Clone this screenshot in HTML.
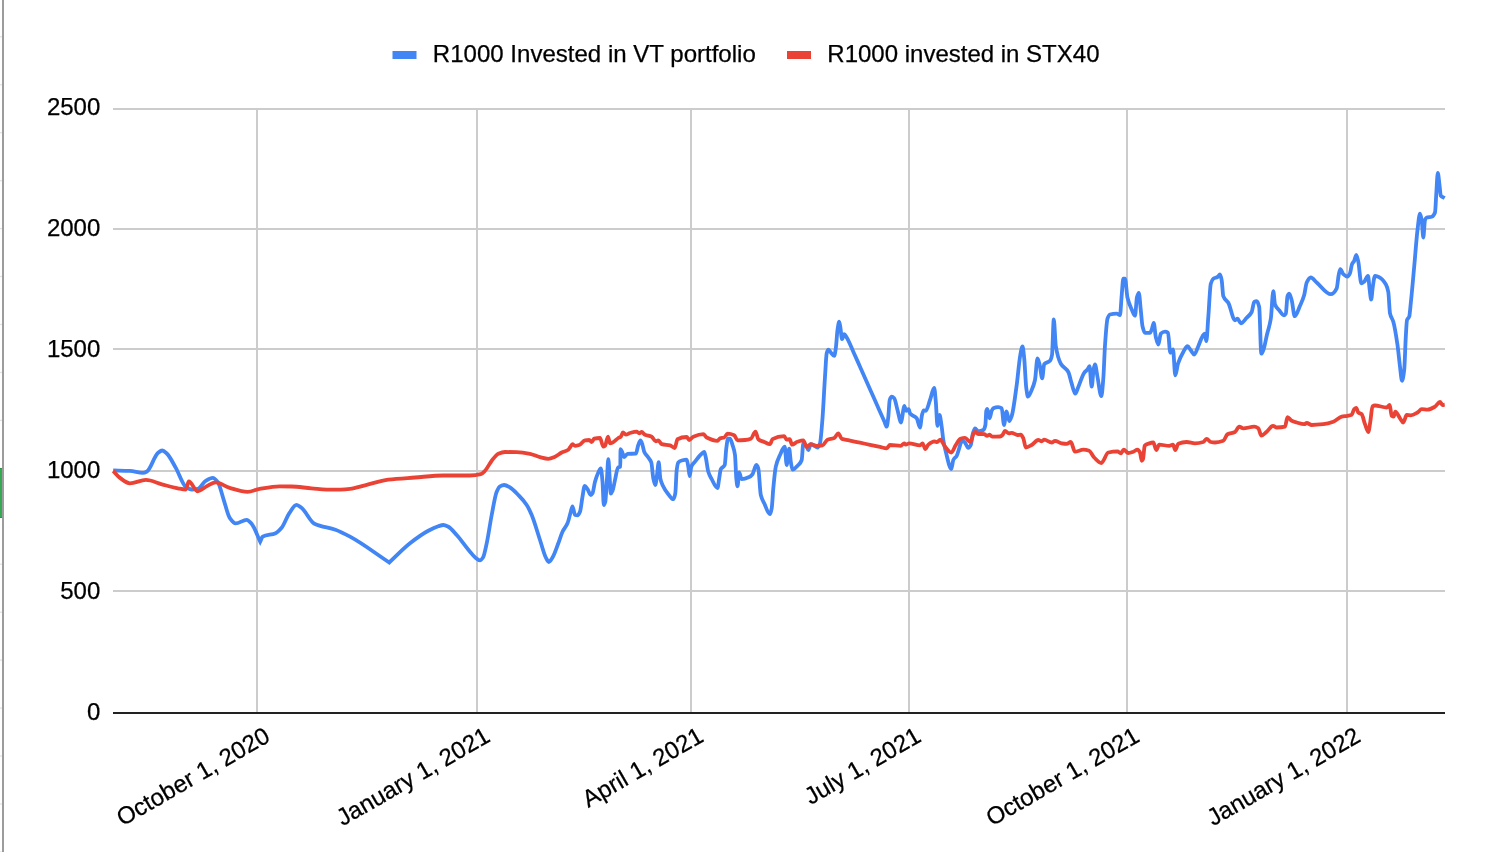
<!DOCTYPE html>
<html><head><meta charset="utf-8"><title>Chart</title>
<style>html,body{margin:0;padding:0;background:#fff;overflow:hidden}body{width:1488px;height:852px;position:relative;font-family:"Liberation Sans",sans-serif}</style>
</head><body>
<svg width="1488" height="852" viewBox="0 0 1488 852" style="position:absolute;left:0;top:0;will-change:transform">
<rect width="1488" height="852" fill="#fff"/>
<rect x="0" y="36.2" width="2" height="1.2" fill="#e2e2e2"/>
<rect x="0" y="84.2" width="2" height="1.2" fill="#e2e2e2"/>
<rect x="0" y="132.1" width="2" height="1.2" fill="#e2e2e2"/>
<rect x="0" y="180.1" width="2" height="1.2" fill="#e2e2e2"/>
<rect x="0" y="228.0" width="2" height="1.2" fill="#e2e2e2"/>
<rect x="0" y="275.9" width="2" height="1.2" fill="#e2e2e2"/>
<rect x="0" y="323.9" width="2" height="1.2" fill="#e2e2e2"/>
<rect x="0" y="371.9" width="2" height="1.2" fill="#e2e2e2"/>
<rect x="0" y="419.8" width="2" height="1.2" fill="#e2e2e2"/>
<rect x="0" y="563.6" width="2" height="1.2" fill="#e2e2e2"/>
<rect x="0" y="611.6" width="2" height="1.2" fill="#e2e2e2"/>
<rect x="0" y="659.5" width="2" height="1.2" fill="#e2e2e2"/>
<rect x="0" y="707.5" width="2" height="1.2" fill="#e2e2e2"/>
<rect x="0" y="755.4" width="2" height="1.2" fill="#e2e2e2"/>
<rect x="0" y="803.4" width="2" height="1.2" fill="#e2e2e2"/>
<rect x="0" y="851.4" width="2" height="1.2" fill="#e2e2e2"/>
<rect x="0" y="468" width="2.4" height="50" fill="#34a853"/>
<rect x="0" y="468" width="2.4" height="1" fill="#2c9147"/>
<rect x="0" y="517" width="2.4" height="1" fill="#2c9147"/>
<rect x="2" y="0" width="2" height="852" fill="#9c9c9c"/>
<rect x="113" y="108" width="1332" height="2" fill="#ccc"/>
<rect x="113" y="228" width="1332" height="2" fill="#ccc"/>
<rect x="113" y="348" width="1332" height="2" fill="#ccc"/>
<rect x="113" y="470" width="1332" height="2" fill="#ccc"/>
<rect x="113" y="590" width="1332" height="2" fill="#ccc"/>
<rect x="256" y="108" width="2" height="604" fill="#ccc"/>
<rect x="476" y="108" width="2" height="604" fill="#ccc"/>
<rect x="690" y="108" width="2" height="604" fill="#ccc"/>
<rect x="908" y="108" width="2" height="604" fill="#ccc"/>
<rect x="1126" y="108" width="2" height="604" fill="#ccc"/>
<rect x="1346" y="108" width="2" height="604" fill="#ccc"/>
<rect x="113" y="712" width="1332" height="2" fill="#222"/>
<path d="M113.2 470.5C118.77 470.63 124.33 470.66 129.9 470.9C134.23 471.09 138.57 472.90 142.9 472.9C144.23 472.90 145.57 472.20 146.9 471.5C150.57 469.57 154.23 455.91 157.9 453.0C159.37 451.84 160.83 450.50 162.3 450.5C163.80 450.50 165.30 452.15 166.8 453.5C169.80 456.20 172.80 462.70 175.8 467.9C179.13 473.68 182.47 484.66 185.8 486.9C187.80 488.24 189.80 489.50 191.8 489.5C193.80 489.50 195.80 489.25 197.8 488.9C200.43 488.44 203.07 482.47 205.7 480.9C208.03 479.51 210.37 477.90 212.7 477.9C214.37 477.90 216.03 479.83 217.7 481.9C219.70 484.38 221.70 493.82 223.7 499.8C225.70 505.78 227.70 514.95 229.7 517.8C231.70 520.65 233.70 523.40 235.7 523.4C239.37 523.40 243.03 519.80 246.7 519.8C248.33 519.80 249.97 521.96 251.6 523.8C254.47 527.03 257.33 535.73 260.2 541.7C261.00 540.03 261.80 537.16 262.6 536.7C266.93 534.19 271.27 535.12 275.6 533.2C277.60 532.31 279.60 530.20 281.6 527.8C284.23 524.64 286.87 516.54 289.5 512.8C291.83 509.49 294.17 504.80 296.5 504.8C298.17 504.80 299.83 506.52 301.5 507.8C305.83 511.13 310.17 521.68 314.5 523.8C321.47 527.21 328.43 527.28 335.4 529.8C340.27 531.56 345.13 534.09 350.0 536.7C363.07 543.71 376.13 553.90 389.2 562.5C396.13 556.10 403.07 548.73 410.0 543.3C416.10 538.53 422.20 534.04 428.3 530.8C431.63 529.03 434.97 527.37 438.3 526.3C439.97 525.77 441.63 525.00 443.3 525.0C444.97 525.00 446.63 525.89 448.3 526.7C451.10 528.06 453.90 531.93 456.7 535.0C461.13 539.86 465.57 546.69 470.0 551.7C472.23 554.22 474.47 557.28 476.7 558.7C477.80 559.40 478.90 560.30 480.0 560.3C481.00 560.30 482.00 558.97 483.0 557.5C484.23 555.69 485.47 548.89 486.7 543.3C488.37 535.75 490.03 523.52 491.7 515.0C493.37 506.48 495.03 495.61 496.7 491.7C497.80 489.12 498.90 486.89 500.0 486.3C501.40 485.55 502.80 485.00 504.2 485.0C506.13 485.00 508.07 486.39 510.0 487.5C512.77 489.08 515.53 492.16 518.3 495.0C521.10 497.88 523.90 500.73 526.7 505.0C528.37 507.54 530.03 511.06 531.7 515.0C534.47 521.54 537.23 531.66 540.0 540.0C541.93 545.83 543.87 553.76 545.8 557.5C546.80 559.43 547.80 562.00 548.8 562.0C550.03 562.00 551.27 559.46 552.5 557.5C554.43 554.43 556.37 548.33 558.3 543.3C559.70 539.65 561.10 534.65 562.5 531.7C564.17 528.19 565.83 527.18 567.5 523.3C568.60 520.74 569.70 515.35 570.8 511.7C571.37 509.82 571.93 506.30 572.5 506.3C573.33 506.30 574.17 514.81 575.0 515.0C575.83 515.19 576.67 515.30 577.5 515.3C578.33 515.30 579.17 513.64 580.0 511.7C580.83 509.76 581.67 501.21 582.5 496.7C583.23 492.73 583.97 485.80 584.7 485.8C585.63 485.80 586.57 487.87 587.5 489.2C588.60 490.77 589.70 495.00 590.8 495.0C591.37 495.00 591.93 494.20 592.5 493.3C593.33 491.98 594.17 484.64 595.0 481.7C596.10 477.82 597.20 474.78 598.3 472.5C599.13 470.77 599.97 468.30 600.8 468.3C601.37 468.30 601.93 475.39 602.5 481.7C602.93 486.53 603.37 505.00 603.8 505.0C604.30 505.00 604.80 503.57 605.3 501.7C605.87 499.58 606.43 486.37 607.0 478.3C607.43 472.13 607.87 459.20 608.3 459.2C608.77 459.20 609.23 471.85 609.7 478.3C610.07 483.37 610.43 493.70 610.8 493.7C611.37 493.70 611.93 492.15 612.5 490.8C613.33 488.82 614.17 483.54 615.0 480.0C616.00 475.76 617.00 468.12 618.0 467.5C618.77 467.03 619.53 467.44 620.3 466.7C620.37 466.64 620.43 449.20 620.5 449.2C621.00 449.20 621.50 450.73 622.0 451.7C622.73 453.13 623.47 457.00 624.2 457.0C625.30 457.00 626.40 453.83 627.5 453.8C630.27 453.72 633.03 453.78 635.8 453.7C636.63 453.68 637.47 447.20 638.3 445.0C639.03 443.07 639.77 440.30 640.5 440.3C641.17 440.30 641.83 443.02 642.5 445.0C643.07 446.68 643.63 450.44 644.2 451.7C645.57 454.74 646.93 455.40 648.3 457.5C649.30 459.04 650.30 459.62 651.3 462.5C651.97 464.42 652.63 475.16 653.3 478.3C653.97 481.44 654.63 485.00 655.3 485.0C655.87 485.00 656.43 478.74 657.0 475.0C657.57 471.26 658.13 462.20 658.7 462.2C659.23 462.20 659.77 475.73 660.3 478.3C661.03 481.83 661.77 483.39 662.5 485.0C664.43 489.23 666.37 491.84 668.3 494.2C669.97 496.23 671.63 499.20 673.3 499.2C673.97 499.20 674.63 496.78 675.3 493.3C675.77 490.86 676.23 473.46 676.7 470.0C677.23 466.05 677.77 463.11 678.3 462.5C679.43 461.19 680.57 460.80 681.7 460.5C683.37 460.06 685.03 459.70 686.7 459.7C687.23 459.70 687.77 463.85 688.3 466.7C688.77 469.19 689.23 476.20 689.7 476.2C690.23 476.20 690.77 467.98 691.3 466.7C692.53 463.74 693.77 463.27 695.0 461.7C697.23 458.85 699.47 455.56 701.7 453.7C702.53 453.01 703.37 452.00 704.2 452.0C704.73 452.00 705.27 455.26 705.8 457.5C706.63 461.01 707.47 468.99 708.3 471.7C709.43 475.38 710.57 477.13 711.7 479.2C713.63 482.73 715.57 488.00 717.5 488.0C718.07 488.00 718.63 481.53 719.2 478.3C719.73 475.26 720.27 470.27 720.8 469.2C722.10 466.60 723.40 467.86 724.7 465.0C725.23 463.83 725.77 452.22 726.3 448.3C726.87 444.13 727.43 438.70 728.0 438.7C728.67 438.70 729.33 438.70 730.0 438.7C730.83 438.70 731.67 442.42 732.5 445.0C733.33 447.58 734.17 449.16 735.0 455.0C735.43 458.04 735.87 474.11 736.3 478.3C736.70 482.16 737.10 486.30 737.5 486.3C738.07 486.30 738.63 472.50 739.2 472.5C740.03 472.50 740.87 479.20 741.7 479.2C744.20 479.20 746.70 478.16 749.2 477.0C750.30 476.49 751.40 475.57 752.5 474.2C753.77 472.63 755.03 465.00 756.3 465.0C756.97 465.00 757.63 466.44 758.3 468.3C759.13 470.62 759.97 491.58 760.8 495.0C761.93 499.65 763.07 500.87 764.2 503.3C766.13 507.45 768.07 514.20 770.0 514.2C770.57 514.20 771.13 511.40 771.7 508.3C772.23 505.39 772.77 493.82 773.3 488.3C774.13 479.67 774.97 470.37 775.8 466.7C777.20 460.53 778.60 458.04 780.0 455.0C781.57 451.60 783.13 446.70 784.7 446.7C785.37 446.70 786.03 465.00 786.7 465.0C787.53 465.00 788.37 448.70 789.2 448.7C789.73 448.70 790.27 458.51 790.8 461.7C791.37 465.09 791.93 469.70 792.5 469.7C794.43 469.70 796.37 467.07 798.3 465.0C799.43 463.79 800.57 463.21 801.7 460.0C802.23 458.49 802.77 443.30 803.3 443.3C804.43 443.30 805.57 445.11 806.7 446.7C807.23 447.45 807.77 450.00 808.3 450.0C809.13 450.00 809.97 444.20 810.8 444.2C811.93 444.20 813.07 445.24 814.2 445.8C815.30 446.34 816.40 447.50 817.5 447.5C818.33 447.50 819.17 445.70 820.0 443.3C820.83 440.90 821.67 428.71 822.5 418.3C823.33 407.89 824.17 389.18 825.0 376.7C825.57 368.21 826.13 355.48 826.7 353.3C827.23 351.25 827.77 349.70 828.3 349.7C829.13 349.70 829.97 351.63 830.8 352.5C831.93 353.68 833.07 355.80 834.2 355.8C834.73 355.80 835.27 351.77 835.8 348.3C836.37 344.61 836.93 333.81 837.5 330.0C838.07 326.19 838.63 321.70 839.2 321.7C839.63 321.70 840.07 325.72 840.5 328.3C841.00 331.28 841.50 339.20 842.0 339.2C842.73 339.20 843.47 334.20 844.2 334.2C845.03 334.20 845.87 336.18 846.7 337.5C848.90 340.97 851.10 346.87 853.3 351.7C855.53 356.60 857.77 361.69 860.0 366.7C863.33 374.18 866.67 381.70 870.0 389.2C873.33 396.70 876.67 404.21 880.0 411.7C881.50 415.07 883.00 418.45 884.5 421.8C885.23 423.44 885.97 426.70 886.7 426.7C887.23 426.70 887.77 421.11 888.3 416.7C888.77 412.85 889.23 401.42 889.7 400.0C890.37 397.98 891.03 396.70 891.7 396.7C892.53 396.70 893.37 397.42 894.2 398.3C895.30 399.46 896.40 406.19 897.5 410.0C898.73 414.27 899.97 422.50 901.2 422.5C901.73 422.50 902.27 416.26 902.8 413.3C903.27 410.71 903.73 405.80 904.2 405.8C904.90 405.80 905.60 410.80 906.3 410.8C907.10 410.80 907.90 409.20 908.7 409.2C909.13 409.20 909.57 412.69 910.0 413.3C912.23 416.43 914.47 415.49 916.7 418.3C917.80 419.69 918.90 427.50 920.0 427.5C920.67 427.50 921.33 417.53 922.0 415.0C922.57 412.85 923.13 410.30 923.7 410.3C924.40 410.30 925.10 410.80 925.8 410.8C927.20 410.80 928.60 403.79 930.0 400.0C931.40 396.21 932.80 388.00 934.2 388.0C934.73 388.00 935.27 396.02 935.8 401.7C936.37 407.73 936.93 425.80 937.5 425.8C938.17 425.80 938.83 415.00 939.5 415.0C940.23 415.00 940.97 421.89 941.7 426.7C942.23 430.20 942.77 436.74 943.3 440.0C944.13 445.09 944.97 448.49 945.8 451.7C947.63 458.77 949.47 469.00 951.3 469.0C951.97 469.00 952.63 461.36 953.3 460.0C954.43 457.69 955.57 457.83 956.7 455.8C957.53 454.31 958.37 450.71 959.2 448.3C960.03 445.89 960.87 441.30 961.7 441.3C962.53 441.30 963.37 441.47 964.2 441.7C965.57 442.07 966.93 447.90 968.3 447.9C969.13 447.90 969.97 446.63 970.8 445.0C971.50 443.63 972.20 435.64 972.9 433.3C973.60 430.96 974.30 428.30 975.0 428.3C976.10 428.30 977.20 431.30 978.3 431.3C979.97 431.30 981.63 430.88 983.3 430.0C984.00 429.63 984.70 428.21 985.4 425.0C985.70 423.62 986.00 411.88 986.3 410.8C986.63 409.60 986.97 408.80 987.3 408.8C988.07 408.80 988.83 418.30 989.6 418.3C990.30 418.30 991.00 412.30 991.7 410.8C992.23 409.66 992.77 408.55 993.3 408.3C994.97 407.51 996.63 407.10 998.3 407.1C999.43 407.10 1000.57 407.49 1001.7 408.3C1002.47 408.85 1003.23 425.00 1004.0 425.0C1004.83 425.00 1005.67 411.50 1006.5 411.5C1007.40 411.50 1008.30 421.00 1009.2 421.0C1010.03 421.00 1010.87 418.38 1011.7 416.0C1013.37 411.23 1015.03 396.95 1016.7 385.0C1017.90 376.40 1019.10 361.26 1020.3 355.0C1021.03 351.18 1021.77 346.30 1022.5 346.3C1023.07 346.30 1023.63 353.01 1024.2 358.3C1024.90 364.84 1025.60 383.25 1026.3 388.3C1026.87 392.39 1027.43 396.70 1028.0 396.7C1029.23 396.70 1030.47 392.81 1031.7 390.0C1032.80 387.49 1033.90 385.05 1035.0 380.0C1035.83 376.17 1036.67 358.30 1037.5 358.3C1038.23 358.30 1038.97 362.18 1039.7 365.0C1040.53 368.21 1041.37 378.30 1042.2 378.3C1042.87 378.30 1043.53 365.04 1044.2 364.2C1046.13 361.77 1048.07 362.91 1050.0 360.8C1050.67 360.07 1051.33 358.42 1052.0 355.0C1052.60 351.92 1053.20 319.30 1053.8 319.3C1054.47 319.30 1055.13 341.93 1055.8 346.0C1057.47 356.17 1059.13 360.79 1060.8 363.7C1063.30 368.07 1065.80 367.53 1068.3 372.0C1069.43 374.03 1070.57 380.21 1071.7 383.7C1072.90 387.39 1074.10 393.70 1075.3 393.7C1076.30 393.70 1077.30 389.31 1078.3 387.0C1080.27 382.46 1082.23 375.47 1084.2 372.8C1085.30 371.30 1086.40 370.90 1087.5 369.5C1088.17 368.65 1088.83 366.20 1089.5 366.2C1090.23 366.20 1090.97 386.70 1091.7 386.7C1092.37 386.70 1093.03 371.77 1093.7 368.7C1094.13 366.71 1094.57 364.50 1095.0 364.5C1095.83 364.50 1096.67 372.81 1097.5 377.0C1098.77 383.36 1100.03 396.20 1101.3 396.2C1101.97 396.20 1102.63 386.86 1103.3 378.7C1103.87 371.77 1104.43 353.27 1105.0 345.3C1105.83 333.58 1106.67 321.12 1107.5 318.7C1108.33 316.28 1109.17 314.71 1110.0 314.5C1112.23 313.93 1114.47 313.70 1116.7 313.7C1117.80 313.70 1118.90 315.00 1120.0 315.0C1120.57 315.00 1121.13 301.50 1121.7 295.3C1122.23 289.46 1122.77 278.70 1123.3 278.7C1123.87 278.70 1124.43 278.70 1125.0 278.7C1125.83 278.70 1126.67 294.26 1127.5 297.8C1128.90 303.75 1130.30 306.38 1131.7 309.5C1132.80 311.95 1133.90 315.70 1135.0 315.7C1135.67 315.70 1136.33 299.46 1137.0 297.0C1137.60 294.78 1138.20 292.80 1138.8 292.8C1139.47 292.80 1140.13 304.27 1140.8 310.3C1141.37 315.43 1141.93 323.78 1142.5 326.2C1143.33 329.76 1144.17 332.80 1145.0 332.8C1146.67 332.80 1148.33 332.80 1150.0 332.8C1150.67 332.80 1151.33 330.43 1152.0 328.7C1152.57 327.23 1153.13 322.80 1153.7 322.8C1154.40 322.80 1155.10 334.06 1155.8 337.0C1156.63 340.50 1157.47 344.50 1158.3 344.5C1159.13 344.50 1159.97 334.47 1160.8 333.7C1162.20 332.41 1163.60 331.70 1165.0 331.7C1166.00 331.70 1167.00 332.07 1168.0 332.8C1168.77 333.36 1169.53 352.80 1170.3 352.8C1171.20 352.80 1172.10 349.50 1173.0 349.5C1173.77 349.50 1174.53 375.30 1175.3 375.3C1176.20 375.30 1177.10 366.42 1178.0 363.7C1179.77 358.36 1181.53 354.98 1183.3 352.0C1184.70 349.64 1186.10 346.20 1187.5 346.2C1188.60 346.20 1189.70 348.94 1190.8 350.3C1191.93 351.70 1193.07 354.50 1194.2 354.5C1195.57 354.50 1196.93 349.19 1198.3 346.2C1199.70 343.14 1201.10 338.28 1202.5 336.2C1203.23 335.11 1203.97 333.70 1204.7 333.7C1205.23 333.70 1205.77 341.20 1206.3 341.2C1206.97 341.20 1207.63 325.44 1208.3 317.0C1209.13 306.45 1209.97 286.60 1210.8 283.7C1211.63 280.80 1212.47 279.29 1213.3 278.7C1214.70 277.70 1216.10 277.84 1217.5 277.0C1218.33 276.50 1219.17 274.50 1220.0 274.5C1220.57 274.50 1221.13 277.41 1221.7 280.3C1222.23 283.02 1222.77 294.77 1223.3 296.2C1224.97 300.67 1226.63 299.92 1228.3 302.8C1230.53 306.66 1232.77 320.30 1235.0 320.3C1235.83 320.30 1236.67 318.70 1237.5 318.7C1238.60 318.70 1239.70 323.30 1240.8 323.3C1242.77 323.30 1244.73 319.84 1246.7 317.8C1248.37 316.07 1250.03 315.19 1251.7 312.0C1252.53 310.40 1253.37 302.49 1254.2 302.0C1255.03 301.51 1255.87 301.20 1256.7 301.2C1257.53 301.20 1258.37 303.41 1259.2 307.0C1259.90 310.01 1260.60 353.70 1261.3 353.7C1261.97 353.70 1262.63 351.85 1263.3 350.3C1264.53 347.42 1265.77 339.70 1267.0 334.5C1268.27 329.16 1269.53 326.59 1270.8 318.7C1271.63 313.51 1272.47 291.20 1273.3 291.2C1273.87 291.20 1274.43 303.02 1275.0 304.5C1276.40 308.15 1277.80 308.67 1279.2 310.3C1280.87 312.24 1282.53 315.30 1284.2 315.3C1284.73 315.30 1285.27 314.66 1285.8 313.7C1286.37 312.68 1286.93 297.66 1287.5 296.2C1288.07 294.74 1288.63 293.70 1289.2 293.7C1290.03 293.70 1290.87 297.39 1291.7 300.3C1292.70 303.79 1293.70 316.20 1294.7 316.2C1296.47 316.20 1298.23 309.75 1300.0 305.8C1301.40 302.67 1302.80 299.89 1304.2 295.0C1305.03 292.09 1305.87 284.22 1306.7 282.5C1308.07 279.68 1309.43 277.50 1310.8 277.5C1312.77 277.50 1314.73 280.85 1316.7 282.5C1321.40 286.45 1326.10 294.20 1330.8 294.2C1332.77 294.20 1334.73 292.19 1336.7 288.3C1337.37 286.98 1338.03 278.09 1338.7 275.0C1339.23 272.52 1339.77 269.20 1340.3 269.2C1341.30 269.20 1342.30 273.30 1343.3 274.2C1344.70 275.46 1346.10 276.70 1347.5 276.7C1348.33 276.70 1349.17 275.08 1350.0 273.3C1350.67 271.88 1351.33 265.75 1352.0 264.2C1352.73 262.49 1353.47 262.26 1354.2 260.8C1354.90 259.41 1355.60 255.00 1356.3 255.0C1356.97 255.00 1357.63 258.72 1358.3 261.7C1359.30 266.16 1360.30 283.30 1361.3 283.3C1362.27 283.30 1363.23 282.47 1364.2 281.7C1365.47 280.69 1366.73 275.80 1368.0 275.8C1368.57 275.80 1369.13 285.93 1369.7 290.0C1370.20 293.59 1370.70 299.50 1371.2 299.5C1371.73 299.50 1372.27 290.00 1372.8 286.7C1373.53 282.16 1374.27 275.80 1375.0 275.8C1376.10 275.80 1377.20 276.26 1378.3 276.7C1380.80 277.70 1383.30 280.06 1385.8 284.2C1386.63 285.58 1387.47 287.67 1388.3 292.0C1388.87 294.94 1389.43 310.72 1390.0 313.3C1391.10 318.31 1392.20 317.92 1393.3 321.7C1394.70 326.51 1396.10 335.34 1397.5 345.0C1398.33 350.75 1399.17 360.24 1400.0 366.7C1400.67 371.87 1401.33 380.80 1402.0 380.8C1402.73 380.80 1403.47 376.02 1404.2 370.0C1404.73 365.62 1405.27 345.51 1405.8 336.7C1406.20 330.09 1406.60 321.18 1407.0 320.0C1407.73 317.84 1408.47 318.64 1409.2 316.7C1409.73 315.29 1410.27 308.00 1410.8 303.0C1411.93 292.37 1413.07 279.05 1414.2 266.7C1415.30 254.72 1416.40 238.94 1417.5 230.0C1418.33 223.23 1419.17 213.70 1420.0 213.7C1420.57 213.70 1421.13 216.85 1421.7 220.0C1422.23 222.97 1422.77 237.50 1423.3 237.5C1423.87 237.50 1424.43 221.46 1425.0 220.0C1425.57 218.54 1426.13 217.69 1426.7 217.5C1428.37 216.95 1430.03 217.20 1431.7 216.7C1432.80 216.37 1433.90 215.44 1435.0 212.5C1435.43 211.34 1435.87 199.43 1436.3 193.3C1436.80 186.23 1437.30 173.00 1437.8 173.0C1438.37 173.00 1438.93 180.66 1439.5 185.0C1439.93 188.32 1440.37 195.26 1440.8 195.8C1442.10 197.41 1443.40 197.27 1444.7 198.0" fill="none" stroke="#4285f4" stroke-width="3.8" stroke-linejoin="miter" stroke-miterlimit="4" stroke-linecap="butt"/>
<path d="M113.2 470.9C115.47 473.23 117.73 476.25 120.0 477.9C123.30 480.30 126.60 483.30 129.9 483.3C135.23 483.30 140.57 479.90 145.9 479.9C151.23 479.90 156.57 482.90 161.9 484.3C167.20 485.69 172.50 487.33 177.8 488.3C180.47 488.79 183.13 489.50 185.8 489.5C186.80 489.50 187.80 481.50 188.8 481.5C191.80 481.50 194.80 491.30 197.8 491.3C200.43 491.30 203.07 488.23 205.7 486.9C209.03 485.21 212.37 482.30 215.7 482.3C220.37 482.30 225.03 486.55 229.7 487.9C235.67 489.63 241.63 491.90 247.6 491.9C251.60 491.90 255.60 489.60 259.6 488.9C266.27 487.73 272.93 486.30 279.6 486.3C283.57 486.30 287.53 486.39 291.5 486.5C298.17 486.68 304.83 487.80 311.5 488.3C318.80 488.85 326.10 489.70 333.4 489.7C338.93 489.70 344.47 489.29 350.0 488.8C355.00 488.36 360.00 486.48 365.0 485.3C372.77 483.46 380.53 480.66 388.3 479.7C397.20 478.60 406.10 478.18 415.0 477.5C424.43 476.78 433.87 475.50 443.3 475.5C452.20 475.50 461.10 475.50 470.0 475.5C473.60 475.50 477.20 475.05 480.8 474.2C482.20 473.87 483.60 472.24 485.0 470.8C487.23 468.51 489.47 463.59 491.7 460.8C493.90 458.05 496.10 454.60 498.3 453.7C500.53 452.78 502.77 452.00 505.0 452.0C508.90 452.00 512.80 452.09 516.7 452.2C521.13 452.33 525.57 452.99 530.0 453.8C533.33 454.41 536.67 456.39 540.0 457.2C542.77 457.87 545.53 458.80 548.3 458.8C550.53 458.80 552.77 457.63 555.0 456.7C557.23 455.77 559.47 453.63 561.7 452.5C563.90 451.39 566.10 451.26 568.3 449.7C568.87 449.30 569.43 448.24 570.0 447.5C570.83 446.41 571.67 444.20 572.5 444.2C573.33 444.20 574.17 445.80 575.0 445.8C576.40 445.80 577.80 445.42 579.2 445.0C581.13 444.42 583.07 440.54 585.0 440.3C586.40 440.12 587.80 440.00 589.2 440.0C590.03 440.00 590.87 442.00 591.7 442.0C592.53 442.00 593.37 438.91 594.2 438.7C596.13 438.22 598.07 438.00 600.0 438.0C601.10 438.00 602.20 446.70 603.3 446.7C603.87 446.70 604.43 446.28 605.0 445.8C606.00 444.95 607.00 436.70 608.0 436.7C608.67 436.70 609.33 443.30 610.0 443.3C610.83 443.30 611.67 442.86 612.5 442.5C614.43 441.67 616.37 439.17 618.3 438.0C619.13 437.49 619.97 437.39 620.8 436.7C621.53 436.09 622.27 432.50 623.0 432.5C623.93 432.50 624.87 434.70 625.8 434.7C627.20 434.70 628.60 433.38 630.0 433.0C632.23 432.40 634.47 431.70 636.7 431.7C637.53 431.70 638.37 433.30 639.2 433.3C640.03 433.30 640.87 432.00 641.7 432.0C642.80 432.00 643.90 434.19 645.0 434.7C647.23 435.73 649.47 435.60 651.7 436.7C653.07 437.38 654.43 441.30 655.8 441.3C656.63 441.30 657.47 440.30 658.3 440.3C659.43 440.30 660.57 443.90 661.7 444.2C664.47 444.94 667.23 444.67 670.0 445.3C671.57 445.66 673.13 448.00 674.7 448.0C675.63 448.00 676.57 439.69 677.5 439.2C680.57 437.59 683.63 437.00 686.7 437.0C687.53 437.00 688.37 440.00 689.2 440.0C690.57 440.00 691.93 437.26 693.3 436.7C696.63 435.33 699.97 434.20 703.3 434.2C704.43 434.20 705.57 436.92 706.7 437.5C710.30 439.34 713.90 440.80 717.5 440.8C718.33 440.80 719.17 438.58 720.0 438.3C721.40 437.82 722.80 437.97 724.2 437.5C725.30 437.13 726.40 433.70 727.5 433.7C729.73 433.70 731.97 434.30 734.2 435.3C735.30 435.79 736.40 440.30 737.5 440.3C740.00 440.30 742.50 440.17 745.0 440.0C746.93 439.86 748.87 439.47 750.8 438.7C752.37 438.07 753.93 431.70 755.5 431.7C756.43 431.70 757.37 438.38 758.3 439.2C760.27 440.93 762.23 441.17 764.2 442.0C766.13 442.81 768.07 444.20 770.0 444.2C770.83 444.20 771.67 439.65 772.5 439.2C776.40 437.07 780.30 436.20 784.2 436.2C785.03 436.20 785.87 439.70 786.7 439.7C787.70 439.70 788.70 439.20 789.7 439.2C790.47 439.20 791.23 444.70 792.0 444.7C793.83 444.70 795.67 442.32 797.5 441.7C799.43 441.05 801.37 440.30 803.3 440.3C804.43 440.30 805.57 447.00 806.7 447.0C808.07 447.00 809.43 444.20 810.8 444.2C812.77 444.20 814.73 445.80 816.7 445.8C818.63 445.80 820.57 445.62 822.5 445.3C824.17 445.03 825.83 440.41 827.5 439.7C829.73 438.75 831.97 438.98 834.2 438.0C835.57 437.40 836.93 433.30 838.3 433.3C839.43 433.30 840.57 438.32 841.7 438.8C842.80 439.26 843.90 439.36 845.0 439.6C846.67 439.97 848.33 440.26 850.0 440.6C853.33 441.28 856.67 442.00 860.0 442.7C863.33 443.40 866.67 444.10 870.0 444.8C873.33 445.50 876.67 446.20 880.0 446.9C882.23 447.37 884.47 448.30 886.7 448.3C887.80 448.30 888.90 445.00 890.0 445.0C893.60 445.00 897.20 445.80 900.8 445.8C901.93 445.80 903.07 443.30 904.2 443.3C904.73 443.30 905.27 444.70 905.8 444.7C906.93 444.70 908.07 443.30 909.2 443.3C912.80 443.30 916.40 445.40 920.0 445.4C920.83 445.40 921.67 443.30 922.5 443.3C923.47 443.30 924.43 449.20 925.4 449.2C926.37 449.20 927.33 445.41 928.3 444.6C930.40 442.84 932.50 441.30 934.6 441.3C935.43 441.30 936.27 442.10 937.1 442.1C938.20 442.10 939.30 439.60 940.4 439.6C941.67 439.60 942.93 443.84 944.2 445.4C946.57 448.32 948.93 452.50 951.3 452.5C952.80 452.50 954.30 447.24 955.8 445.0C957.33 442.71 958.87 439.32 960.4 438.8C961.93 438.28 963.47 437.90 965.0 437.9C966.80 437.90 968.60 442.10 970.4 442.1C971.37 442.10 972.33 435.77 973.3 434.2C974.00 433.06 974.70 431.70 975.4 431.7C976.10 431.70 976.80 433.71 977.5 433.8C979.73 434.10 981.97 433.93 984.2 434.2C985.17 434.32 986.13 435.80 987.1 435.8C987.93 435.80 988.77 434.60 989.6 434.6C990.43 434.60 991.27 436.70 992.1 436.7C994.73 436.70 997.37 436.65 1000.0 436.5C1000.83 436.45 1001.67 435.74 1002.5 435.0C1003.33 434.26 1004.17 430.80 1005.0 430.8C1006.27 430.80 1007.53 433.30 1008.8 433.3C1009.77 433.30 1010.73 432.90 1011.7 432.9C1013.63 432.90 1015.57 435.00 1017.5 435.0C1018.60 435.00 1019.70 434.60 1020.8 434.6C1021.63 434.60 1022.47 436.54 1023.3 438.3C1024.13 440.06 1024.97 447.50 1025.8 447.5C1027.77 447.50 1029.73 446.06 1031.7 445.0C1033.90 443.81 1036.10 440.00 1038.3 440.0C1039.43 440.00 1040.57 441.30 1041.7 441.3C1042.53 441.30 1043.37 439.70 1044.2 439.7C1046.70 439.70 1049.20 442.50 1051.7 442.5C1052.80 442.50 1053.90 440.80 1055.0 440.8C1057.23 440.80 1059.47 442.96 1061.7 443.3C1063.37 443.56 1065.03 443.80 1066.7 443.8C1068.07 443.80 1069.43 442.00 1070.8 442.0C1072.20 442.00 1073.60 451.70 1075.0 451.7C1077.77 451.70 1080.53 449.70 1083.3 449.7C1085.27 449.70 1087.23 450.14 1089.2 450.8C1090.87 451.36 1092.53 455.84 1094.2 457.5C1096.57 459.86 1098.93 463.00 1101.3 463.0C1103.63 463.00 1105.97 453.08 1108.3 452.5C1111.37 451.73 1114.43 451.30 1117.5 451.3C1118.60 451.30 1119.70 453.30 1120.8 453.3C1121.77 453.30 1122.73 449.70 1123.7 449.7C1125.23 449.70 1126.77 453.00 1128.3 453.0C1129.97 453.00 1131.63 452.27 1133.3 451.7C1134.70 451.23 1136.10 449.70 1137.5 449.7C1138.33 449.70 1139.17 450.92 1140.0 452.5C1140.57 453.58 1141.13 460.80 1141.7 460.8C1142.13 460.80 1142.57 460.09 1143.0 459.2C1143.57 458.03 1144.13 446.49 1144.7 445.8C1145.90 444.35 1147.10 444.12 1148.3 443.7C1149.97 443.12 1151.63 442.50 1153.3 442.5C1154.30 442.50 1155.30 450.00 1156.3 450.0C1157.27 450.00 1158.23 444.70 1159.2 444.7C1162.53 444.70 1165.87 445.80 1169.2 445.8C1170.47 445.80 1171.73 444.70 1173.0 444.7C1173.77 444.70 1174.53 450.00 1175.3 450.0C1176.30 450.00 1177.30 444.12 1178.3 443.7C1181.10 442.51 1183.90 442.00 1186.7 442.0C1189.47 442.00 1192.23 443.30 1195.0 443.3C1197.77 443.30 1200.53 442.83 1203.3 442.0C1204.43 441.66 1205.57 438.80 1206.7 438.8C1208.07 438.80 1209.43 441.72 1210.8 442.0C1212.20 442.29 1213.60 442.50 1215.0 442.5C1217.77 442.50 1220.53 441.89 1223.3 440.8C1224.70 440.25 1226.10 434.94 1227.5 434.2C1230.00 432.88 1232.50 433.26 1235.0 432.0C1236.40 431.29 1237.80 426.70 1239.2 426.7C1240.57 426.70 1241.93 428.30 1243.3 428.3C1246.93 428.30 1250.57 426.70 1254.2 426.7C1255.57 426.70 1256.93 427.35 1258.3 428.3C1259.30 429.00 1260.30 435.50 1261.3 435.5C1263.10 435.50 1264.90 433.14 1266.7 431.7C1268.80 430.02 1270.90 425.80 1273.0 425.8C1274.23 425.80 1275.47 427.50 1276.7 427.5C1279.47 427.50 1282.23 427.33 1285.0 426.7C1285.83 426.51 1286.67 417.20 1287.5 417.2C1288.90 417.20 1290.30 420.11 1291.7 420.8C1293.37 421.62 1295.03 422.04 1296.7 422.5C1299.20 423.19 1301.70 424.20 1304.2 424.2C1305.03 424.20 1305.87 423.00 1306.7 423.0C1308.37 423.00 1310.03 425.00 1311.7 425.0C1315.57 425.00 1319.43 424.62 1323.3 424.2C1326.63 423.83 1329.97 422.89 1333.3 421.7C1336.10 420.70 1338.90 417.37 1341.7 416.7C1343.63 416.24 1345.57 416.18 1347.5 415.8C1348.90 415.52 1350.30 415.40 1351.7 414.7C1352.53 414.28 1353.37 409.97 1354.2 409.2C1354.87 408.58 1355.53 408.00 1356.2 408.0C1356.90 408.00 1357.60 411.90 1358.3 412.5C1359.43 413.47 1360.57 413.22 1361.7 414.2C1362.80 415.15 1363.90 421.28 1365.0 424.2C1366.10 427.12 1367.20 432.00 1368.3 432.0C1368.97 432.00 1369.63 425.65 1370.3 421.7C1371.03 417.36 1371.77 406.76 1372.5 406.3C1373.33 405.78 1374.17 405.50 1375.0 405.5C1378.90 405.50 1382.80 407.50 1386.7 407.5C1387.70 407.50 1388.70 405.00 1389.7 405.0C1390.37 405.00 1391.03 415.25 1391.7 415.8C1392.37 416.35 1393.03 416.70 1393.7 416.7C1394.23 416.70 1394.77 411.70 1395.3 411.7C1396.87 411.70 1398.43 416.21 1400.0 418.3C1401.10 419.76 1402.20 422.50 1403.3 422.5C1404.43 422.50 1405.57 415.00 1406.7 415.0C1408.07 415.00 1409.43 415.30 1410.8 415.3C1413.03 415.30 1415.27 413.75 1417.5 412.5C1418.90 411.72 1420.30 409.20 1421.7 409.2C1423.63 409.20 1425.57 409.70 1427.5 409.7C1430.00 409.70 1432.50 408.14 1435.0 406.7C1436.67 405.74 1438.33 402.00 1440.0 402.0C1440.83 402.00 1441.67 405.00 1442.5 405.0C1443.23 405.00 1443.97 404.80 1444.7 404.7" fill="none" stroke="#ea4335" stroke-width="3.8" stroke-linejoin="miter" stroke-miterlimit="4" stroke-linecap="butt"/>
<rect x="392.5" y="51" width="24" height="8" fill="#4285f4"/>
<rect x="787" y="51" width="24" height="8" fill="#ea4335"/>
<g font-family="Liberation Sans, sans-serif" font-size="24" fill="#000" stroke="#000" stroke-width="0.25">
<text x="432.8" y="62.3" textLength="323" lengthAdjust="spacingAndGlyphs">R1000 Invested in VT portfolio</text>
<text x="827.3" y="62.3" textLength="272.2" lengthAdjust="spacingAndGlyphs">R1000 invested in STX40</text>
<text x="100.3" y="114.7" text-anchor="end">2500</text>
<text x="100.3" y="235.7" text-anchor="end">2000</text>
<text x="100.3" y="356.7" text-anchor="end">1500</text>
<text x="100.3" y="477.7" text-anchor="end">1000</text>
<text x="100.3" y="598.7" text-anchor="end">500</text>
<text x="100.3" y="719.7" text-anchor="end">0</text>
<text text-anchor="end" transform="translate(271.5 740.5) rotate(-30)">October 1, 2020</text>
<text text-anchor="end" transform="translate(491.5 740.5) rotate(-30)">January 1, 2021</text>
<text text-anchor="end" transform="translate(705 740.5) rotate(-30)">April 1, 2021</text>
<text text-anchor="end" transform="translate(922.5 740.5) rotate(-30)">July 1, 2021</text>
<text text-anchor="end" transform="translate(1141 740.5) rotate(-30)">October 1, 2021</text>
<text text-anchor="end" transform="translate(1362 740.5) rotate(-30)">January 1, 2022</text>
</g></svg>
</body></html>
